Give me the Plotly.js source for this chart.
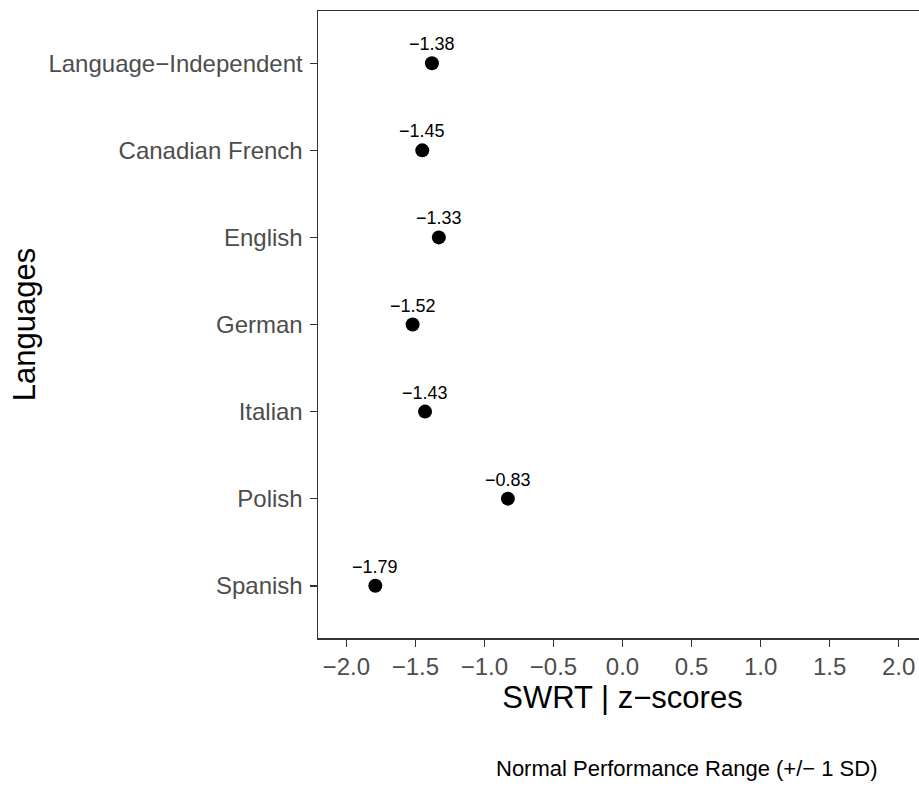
<!DOCTYPE html>
<html>
<head>
<meta charset="utf-8">
<script src="https://cdn.plot.ly/plotly-3.0.1.min.js"></script>
<style>
html,body{margin:0;padding:0;overflow:hidden;background:#fff;}
#chart{width:930px;height:800px;}
</style>
</head>
<body>
<div id="chart"></div>
<script>
var languages = ["Language\u2212Independent","Canadian French","English","German","Italian","Polish","Spanish"];
var zScores = [-1.38,-1.45,-1.33,-1.52,-1.43,-0.83,-1.79];
var xTickVals = [-2,-1.5,-1,-0.5,0,0.5,1,1.5,2];
var xTickText = ["\u22122.0","\u22121.5","\u22121.0","\u22120.5","0.0","0.5","1.0","1.5","2.0"];
var captionText = "Normal Performance Range (+/\u2212 1 SD)";

function fmt(v){ return (v<0?"\u2212":"") + Math.abs(v).toFixed(2); }

var FONT = "Liberation Sans, Arial, sans-serif";

var trace = {
  type: "scatter",
  mode: "markers",
  x: zScores,
  y: languages,
  marker: {color: "#000000", size: 14},
  hoverinfo: "skip",
  showlegend: false
};

var annotations = languages.map(function(l,i){
  return {x: zScores[i], y: l, xref:"x", yref:"y", text: fmt(zScores[i]), showarrow:false,
          yshift: 19, font:{family:FONT, size:18, color:"#000000"}};
});
annotations.push({
  xref:"paper", yref:"paper",
  x:(687-318)/609, y:(638-768)/627,
  xanchor:"center", yanchor:"middle",
  text: captionText, showarrow:false,
  font:{family:FONT, size:22, color:"#000000"}
});

var layout = {
  width: 930, height: 800,
  margin: {l:318, r:3, t:11, b:162, pad:0},
  paper_bgcolor: "#ffffff", plot_bgcolor: "#ffffff",
  font: {family: FONT},
  xaxis: {
    range: [-2.205, 2.205],
    tickvals: xTickVals, ticktext: xTickText,
    showgrid: false, zeroline: false,
    showline: true, mirror: true, linecolor: "#333333", linewidth: 1.5,
    ticks: "outside", ticklen: 7, tickwidth: 1.5, tickcolor: "#333333",
    tickfont: {family: FONT, size: 24, color: "#4d4d4d"},
    title: {text: "SWRT | z\u2212scores", font:{family:FONT, size:31, color:"#000000"}, standoff: 6},
    fixedrange: true
  },
  yaxis: {
    type: "category",
    categoryorder: "array", categoryarray: languages.slice().reverse(),
    range: [-0.6, 6.6],
    showgrid: false, zeroline: false,
    showline: true, mirror: true, linecolor: "#333333", linewidth: 1.5,
    ticks: "outside", ticklen: 7, tickwidth: 1.5, tickcolor: "#333333",
    ticklabelstandoff: 2,
    tickfont: {family: FONT, size: 24, color: "#4d4d4d"},
    title: {text: "Languages", font:{family:FONT, size:31, color:"#000000"}, standoff: 3},
    fixedrange: true
  },
  annotations: annotations,
  showlegend: false
};

Plotly.newPlot("chart", [trace], layout, {displayModeBar:false, staticPlot:true});
</script>
</body>
</html>
